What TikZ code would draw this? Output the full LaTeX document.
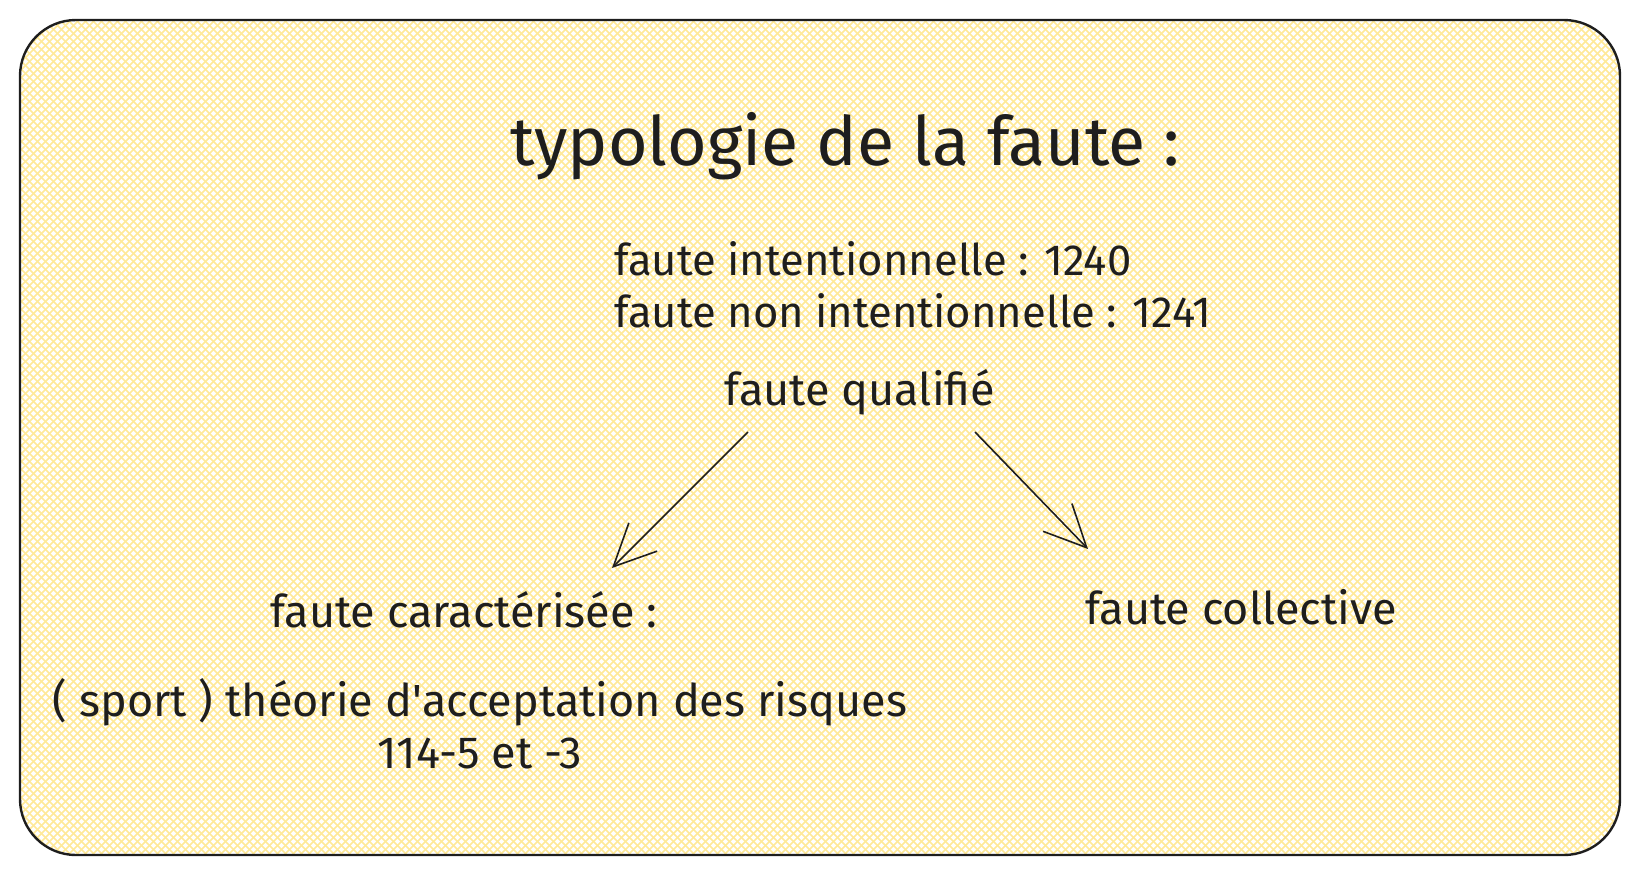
\documentclass[tikz,border=0pt]{standalone}
\usepackage{fontspec}
\setmainfont{Fira Sans}
\usetikzlibrary{arrows.meta}
\definecolor{hatch}{HTML}{FFE999}
\definecolor{ink}{HTML}{1E1E1E}
\begin{document}
\begin{tikzpicture}[x=0.5pt,y=-0.5pt,
  every node/.style={text=ink,inner sep=0pt},
  label text/.style={font=\fontsize{22.5}{26}\selectfont},
  sketch arrow/.style={draw=ink,line width=0.8pt,-{Straight Barb[length=21pt,width=20pt]}}]
  \useasboundingbox (0,0) rectangle (1640,875);
  % hatched card
  \begin{scope}
    \clip[rounded corners=28pt] (20,20) rectangle (1620,855);
    \foreach \i in {-820,-812,...,1620}{
      \draw[hatch,line width=0.75pt] (\i,20) -- ++(835,835);
      \draw[hatch,line width=0.75pt] (\i,855) -- ++(835,-835);
    }
  \end{scope}
  \draw[ink,line width=1.2pt,rounded corners=28pt] (20,20) rectangle (1620,855);
  % texts
  \node[font=\fontsize{34}{40}\selectfont] (title) at (845,146) {typologie de la faute :};
  \node[label text,font=\fontsize{21.8}{26}\selectfont,align=left,anchor=west] (types) at (614,285) {faute intentionnelle : 1240\\faute non intentionnelle : 1241};
  \node[label text] (qual) at (860,392) {faute qualifié};
  \node[label text,anchor=west] (carac) at (270,610) {faute caractérisée :};
  \node[label text,anchor=west] (coll) at (1085,607) {faute collective};
  \node[label text,align=center] (sport) at (480,724) {( sport ) théorie d\textquotesingle acceptation des risques\\114-5 et -3};
  % arrows
  \coordinate (qualL) at (748,432); \coordinate (caracT) at (612,568);
  \coordinate (qualR) at (975,432); \coordinate (collT) at (1088,549);
  \draw[sketch arrow] (qualL) -- (caracT);
  \draw[sketch arrow] (qualR) -- (collT);
\end{tikzpicture}
\end{document}
